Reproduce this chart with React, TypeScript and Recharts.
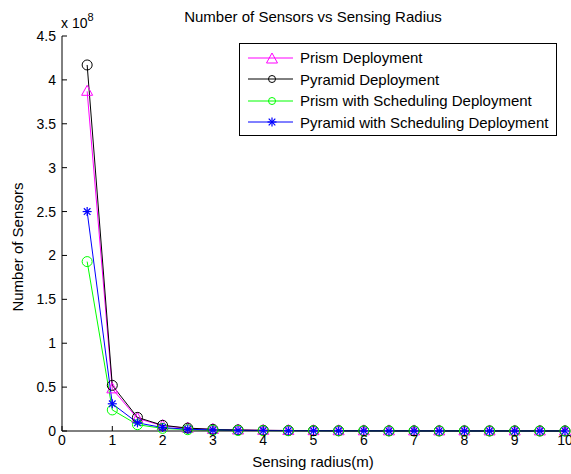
import { LineChart, Line, XAxis, YAxis } from 'recharts'

// sensing radius (m)
const radius = [0.5, 1, 1.5, 2, 2.5, 3, 3.5, 4, 4.5, 5, 5.5, 6, 6.5, 7, 7.5, 8, 8.5, 9, 9.5, 10]

// number of sensors, in units of 1e8
const prism = [3.87, 0.48, 0.143, 0.06, 0.031, 0.018, 0.011, 0.0076, 0.0053, 0.0039, 0.0029, 0.0022, 0.0018, 0.0014, 0.0011, 0.0009, 0.0008, 0.0007, 0.0006, 0.0005]
const pyramid = [4.17, 0.52, 0.155, 0.065, 0.033, 0.019, 0.012, 0.008, 0.0057, 0.0042, 0.0031, 0.0024, 0.0019, 0.0015, 0.0012, 0.001, 0.0009, 0.0007, 0.0006, 0.0005]
const prismSched = [1.93, 0.24, 0.072, 0.03, 0.015, 0.009, 0.006, 0.004, 0.0027, 0.002, 0.0015, 0.0011, 0.0009, 0.0007, 0.0006, 0.0005, 0.0004, 0.0003, 0.0003, 0.0002]
const pyramidSched = [2.5, 0.31, 0.093, 0.039, 0.02, 0.012, 0.007, 0.005, 0.0034, 0.0025, 0.0019, 0.0014, 0.0011, 0.0009, 0.0007, 0.0006, 0.0005, 0.0004, 0.0004, 0.0003]

const xTicks = [0, 1, 2, 3, 4, 5, 6, 7, 8, 9, 10]
const yTicks = [0, 0.5, 1, 1.5, 2, 2.5, 3, 3.5, 4, 4.5]

const data = radius.map((r, i) => ({
  r,
  prism: prism[i],
  pyramid: pyramid[i],
  prismSched: prismSched[i],
  pyramidSched: pyramidSched[i],
}))

const font = '"Liberation Sans", Arial, sans-serif'
const fs = 14
const labelFs = 15

type Marker = 'triangle' | 'circle' | 'star'

function drawMarker(kind: Marker, color: string, cx: number, cy: number, key?: string) {
  if (kind === 'triangle') {
    return (
      <polygon
        key={key}
        points={`${cx},${cy - 6} ${cx - 5.5},${cy + 4} ${cx + 5.5},${cy + 4}`}
        fill="none"
        stroke={color}
        strokeWidth={1}
      />
    )
  }
  if (kind === 'circle') {
    return <circle key={key} cx={cx} cy={cy} r={5} fill="none" stroke={color} strokeWidth={1} />
  }
  return (
    <g key={key} stroke={color} strokeWidth={1.2}>
      <line x1={cx - 4.5} y1={cy} x2={cx + 4.5} y2={cy} />
      <line x1={cx} y1={cy - 4.5} x2={cx} y2={cy + 4.5} />
      <line x1={cx - 3.3} y1={cy - 3.3} x2={cx + 3.3} y2={cy + 3.3} />
      <line x1={cx - 3.3} y1={cy + 3.3} x2={cx + 3.3} y2={cy - 3.3} />
    </g>
  )
}

const series: { key: string; name: string; color: string; marker: Marker }[] = [
  { key: 'prism', name: 'Prism Deployment', color: '#ff00ff', marker: 'triangle' },
  { key: 'pyramid', name: 'Pyramid Deployment', color: '#000000', marker: 'circle' },
  { key: 'prismSched', name: 'Prism with Scheduling Deployment', color: '#00ff00', marker: 'circle' },
  { key: 'pyramidSched', name: 'Pyramid with Scheduling Deployment', color: '#0000ff', marker: 'star' },
]

function LegendBox() {
  return (
    <div
      style={{
        position: 'absolute',
        left: 239,
        top: 43,
        boxSizing: 'border-box',
        border: '1px solid #000',
        background: '#fff',
        width: 318,
        height: 93,
        padding: '3px 0',
        fontFamily: font,
        fontSize: labelFs,
        color: '#000',
      }}
    >
      {series.map((s) => (
        <div key={s.key} style={{ display: 'flex', alignItems: 'center', height: 21.5 }}>
          <svg width={60} height={14} style={{ flex: 'none' }}>
            <line x1={8} y1={7} x2={53} y2={7} stroke={s.color} strokeWidth={1} />
            {s.marker === 'triangle'
              ? drawMarker('triangle', s.color, 32, 8)
              : s.marker === 'circle'
              ? <circle cx={32} cy={7} r={3.5} fill="none" stroke={s.color} />
              : drawMarker('star', s.color, 32, 7)}
          </svg>
          <span style={{ whiteSpace: 'nowrap' }}>{s.name}</span>
        </div>
      ))}
    </div>
  )
}

export default function App() {
  return (
    <div style={{ position: 'absolute', left: 0, top: 0, width: 571, height: 474, background: '#fff' }}>
      <LineChart
        width={571}
        height={474}
        data={data}
        margin={{ top: 36, right: 6, bottom: 23, left: 30 }}
        style={{ position: 'absolute', left: 0, top: 0 }}
      >
        <XAxis
          xAxisId="bottom"
          dataKey="r"
          type="number"
          domain={[0, 10]}
          ticks={xTicks}
          interval={0}
          height={20}
          axisLine={{ stroke: '#000' }}
          tickLine={{ stroke: '#000' }}
          tickSize={-5}
          tickMargin={9}
          tick={{ fill: '#000', fontSize: fs, fontFamily: font }}
        />
        <XAxis
          xAxisId="top"
          orientation="top"
          dataKey="r"
          type="number"
          domain={[0, 10]}
          ticks={xTicks}
          interval={0}
          height={0}
          axisLine={{ stroke: '#000' }}
          tickLine={{ stroke: '#000' }}
          tickSize={-5}
          tick={false}
        />
        <YAxis
          yAxisId="left"
          type="number"
          domain={[0, 4.5]}
          ticks={yTicks}
          interval={0}
          width={32}
          axisLine={{ stroke: '#000' }}
          tickLine={{ stroke: '#000' }}
          tickSize={-5}
          tickMargin={11}
          tick={{ fill: '#000', fontSize: fs, fontFamily: font }}
        />
        <YAxis
          yAxisId="right"
          orientation="right"
          type="number"
          domain={[0, 4.5]}
          ticks={yTicks}
          interval={0}
          width={0}
          axisLine={{ stroke: '#000' }}
          tickLine={{ stroke: '#000' }}
          tickSize={-5}
          tick={false}
        />
        {series.map((s) => (
          <Line
            key={s.key}
            xAxisId="bottom"
            yAxisId="left"
            dataKey={s.key}
            name={s.name}
            stroke={s.color}
            strokeWidth={1}
            isAnimationActive={false}
            dot={(p: any) => drawMarker(s.marker, s.color, p.cx, p.cy, `${s.key}-${p.index}`)}
            activeDot={false}
          />
        ))}
      </LineChart>
      <div
        style={{
          position: 'absolute',
          top: 8,
          left: 0,
          width: 626,
          textAlign: 'center',
          fontFamily: font,
          fontSize: labelFs,
        }}
      >
        Number of Sensors vs Sensing Radius
      </div>
      <div style={{ position: 'absolute', left: 61, top: 12, fontFamily: font, fontSize: fs }}>
        x 10<sup style={{ fontSize: 11, position: 'relative', top: -1 }}>8</sup>
      </div>
      <div
        style={{
          position: 'absolute',
          left: 17,
          top: 247,
          transform: 'translate(-50%, -50%) rotate(-90deg)',
          fontFamily: font,
          fontSize: labelFs,
          whiteSpace: 'nowrap',
        }}
      >
        Number of Sensors
      </div>
      <div
        style={{
          position: 'absolute',
          top: 453,
          left: 0,
          width: 626,
          textAlign: 'center',
          fontFamily: font,
          fontSize: labelFs,
        }}
      >
        Sensing radius(m)
      </div>
      <LegendBox />
    </div>
  )
}
